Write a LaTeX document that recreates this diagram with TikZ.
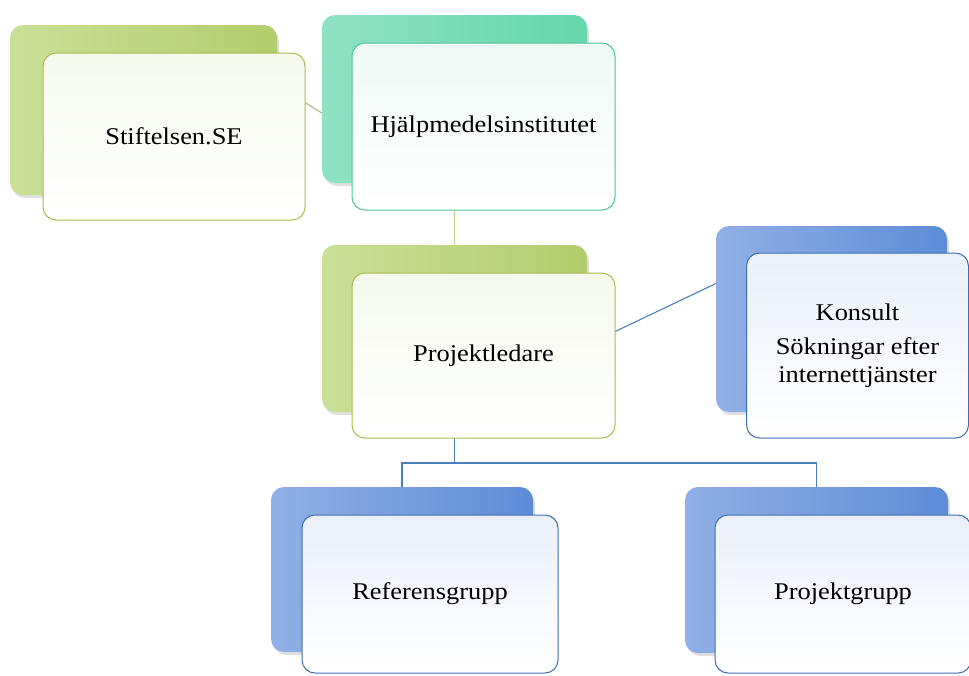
\documentclass[tikz,border=0pt]{standalone}
\usepackage{fontspec}
\setmainfont{Liberation Serif}[FakeStretch=1.1]
\usetikzlibrary{shadows,backgrounds,calc}

\definecolor{grnback}{HTML}{B2CD6C}
\definecolor{grnlight}{HTML}{CADF98}
\definecolor{grnline}{HTML}{ABBB4E}
\definecolor{grnfill}{HTML}{F5F9EC}
\definecolor{tealback}{HTML}{66D6AC}
\definecolor{teallight}{HTML}{8FE2C4}
\definecolor{tealline}{HTML}{4EC39B}
\definecolor{tealfill}{HTML}{EEF9F5}
\definecolor{bluback}{HTML}{5E8CD7}
\definecolor{blulight}{HTML}{90B0E5}
\definecolor{bluline}{HTML}{3D6EB2}
\definecolor{blufill}{HTML}{EAF0FA}
\definecolor{conngrn}{HTML}{C6D08A}
\definecolor{connolive}{HTML}{AEB27A}
\definecolor{connblue}{HTML}{4A7EBB}

\tikzset{
  wh/.style 2 args={minimum width=#1pt, minimum height=#2pt},
  backbox/.style={rounded corners=13pt, inner sep=0pt,
    drop shadow={opacity=0.25, shadow xshift=2pt, shadow yshift=-3pt}},
  frontbox/.style={draw, line width=1pt, rounded corners=13pt, inner sep=4pt,
    align=center, font=\fontsize{24}{28}\selectfont},
  grnbk/.style={backbox, left color=grnlight, middle color=grnback, right color=grnback},
  tealbk/.style={backbox, left color=teallight, middle color=tealback, right color=tealback},
  blubk/.style={backbox, left color=blulight, middle color=bluback, right color=bluback},
  grnfr/.style={frontbox, draw=grnline, top color=grnfill, bottom color=white},
  tealfr/.style={frontbox, draw=tealline, top color=tealfill, bottom color=white},
  blufr/.style={frontbox, draw=bluline, top color=blufill, bottom color=white},
  conn/.style={line width=1.1pt}
}

\begin{document}
\begin{tikzpicture}[x=1pt, y=-1pt]
  \useasboundingbox (0,0) rectangle (969,675);
  % stiftelsen
  \node[grnbk, wh={267}{170}] (stifback) at (143.5,110) {};
  \node[grnfr, wh={262}{167}] (stif) at (174,136.5) {Stiftelsen.SE};
  % hjalpmedelsinstitutet
  \node[tealbk, wh={265}{168}] (hjback) at (454.5,99) {};
  \node[tealfr, wh={263}{167}] (hj) at (483.5,126.5) {Hjälpmedelsinstitutet};
  % projektledare
  \node[grnbk, wh={265}{167}] (plback) at (454.5,328.5) {};
  \node[grnfr, wh={263}{165}] (pl) at (483.5,355.5) {Projektledare};
  % konsult
  \node[blubk, wh={231}{186}] (konback) at (831.5,319) {};
  \node[blufr, wh={222}{185}] (kon) at (857.5,345.5)
    {Konsult\\[6pt]Sökningar efter\\internettjänster};
  % referensgrupp
  \node[blubk, wh={262}{165}] (refback) at (402,569.5) {};
  \node[blufr, wh={256}{158}] (ref) at (430,594) {Referensgrupp};
  % projektgrupp
  \node[blubk, wh={263}{166}] (pgback) at (816.5,570) {};
  \node[blufr, wh={256}{158}] (pg) at (843,594) {Projektgrupp};
  % linjer
  \coordinate (hjj) at (454.5,195);
  \coordinate (plj) at (454.5,408);
  \coordinate (bj) at (454.5,463);
  \begin{pgfonlayer}{background}
    \draw[conn, connolive] ($(stif.north east)!0.3!(stif.south east)$) -- (hjj);
    \draw[conn, conngrn] (hjback.south) -- (plback.north);
    \draw[conn, connblue] (plj) -- ($(konback.north west)!0.31!(konback.south west)$);
    \draw[conn, connblue] (plback.south) -- (bj);
    \draw[conn, connblue] (refback.north) |- (bj) -| (pgback.north);
  \end{pgfonlayer}
\end{tikzpicture}
\end{document}
